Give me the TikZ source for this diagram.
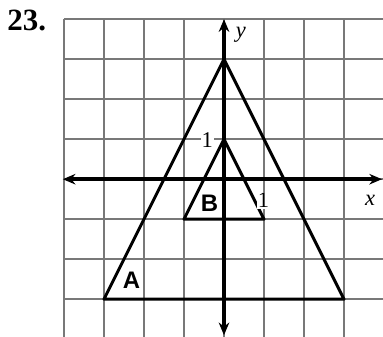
\documentclass[tikz,border=0pt]{standalone}
\usepackage{fontspec}
\setmainfont{Liberation Serif}
\newfontfamily\lblfont{Liberation Sans}
\usetikzlibrary{arrows.meta,calc}
\usepackage{tkz-euclide}
\definecolor{GridClr}{rgb}{0.47,0.47,0.47}
\tikzset{
  axisline/.style={line width=2.7pt,>={Stealth[length=9pt,width=7.5pt]},<->},
  ticklbl/.style={font=\fontsize{16}{18}\selectfont,fill=white,inner sep=0.5pt},
  varlbl/.style={font=\fontsize{16}{18}\selectfont\itshape,inner sep=0pt},
  triglbl/.style={font=\fontsize{17}{20}\selectfont\lblfont\bfseries,inner sep=0pt}
}

\begin{document}
\begin{tikzpicture}
\useasboundingbox (-5.6,-3.94) rectangle (3.975,4.48);
\clip (-5.6,-3.94) rectangle (3.975,4.48);
\tkzSetUpLine[line width=2.1pt,color=black]

\draw[GridClr,line width=1.5pt] (-4,-4) grid (4,4);

\tkzDefPoints{0/3/A,-3/-3/B,3/-3/C}
\tkzDefPoints{0/1/D,-1/-1/E,1/-1/F}
\tkzDefPoints{-4.03/0/xL,3.95/0/xR,0/4/yT,0/-3.9/yB}

\tkzDrawPolygon[line join=round](A,B,C)
\tkzDrawPolygon[line join=round](D,E,F)

\tkzDrawSegments[axisline](xL,xR yB,yT)

\node[ticklbl] (one y) at (-0.42,0.98) {1};
\node[ticklbl] (one x) at (0.99,-0.53) {1};
\node[varlbl] (x lbl) at (3.65,-0.53) {x};
\node[varlbl] (y lbl) at (0.42,3.6) {y};
\node[triglbl] (A lbl) at (-2.31,-2.52) {A};
\node[triglbl] (B lbl) at (-0.36,-0.6) {B};
\node[font=\fontsize{22}{26}\selectfont\bfseries,inner sep=0pt] (num) at (-4.93,3.98) {23.};

\end{tikzpicture}
\end{document}
